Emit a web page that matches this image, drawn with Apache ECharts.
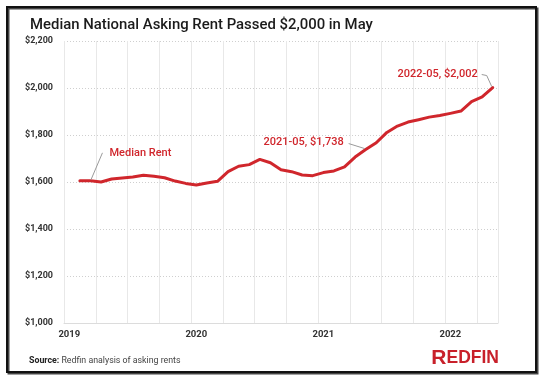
<!DOCTYPE html>
<html><head><meta charset="utf-8">
<script src="https://cdn.jsdelivr.net/npm/echarts@6/dist/echarts.min.js"></script>
<style>html,body{margin:0;padding:0;background:#fff}#c{width:546px;height:383px}</style>
</head><body><div id="c"></div>
<script>
const months = ["2019-01","2019-02","2019-03","2019-04","2019-05","2019-06","2019-07","2019-08","2019-09","2019-10","2019-11","2019-12",
"2020-01","2020-02","2020-03","2020-04","2020-05","2020-06","2020-07","2020-08","2020-09","2020-10","2020-11","2020-12",
"2021-01","2021-02","2021-03","2021-04","2021-05","2021-06","2021-07","2021-08","2021-09","2021-10","2021-11","2021-12",
"2022-01","2022-02","2022-03","2022-04","2022-05"];
const medianRent = [null,1605,1605,1600,1613,1617,1621,1629,1624,1618,1604,1594,
1587,1596,1603,1644,1667,1674,1696,1682,1652,1644,1630,1627,
1640,1647,1664,1706,1738,1767,1811,1838,1855,1865,1876,1883,
1892,1902,1942,1962,2002];
const yTicks = {min:1000, max:2200, interval:200};
const annotations = [
  {month:"2019-03", text:"Median Rent"},
  {month:"2021-05", text:"2021-05, $1,738"},
  {month:"2022-05", text:"2022-05, $2,002"}
];
const titleText = "Median National Asking Rent Passed $2,000 in May";
const sourceLabel = "Source:";
const sourceText = "Redfin analysis of asking rents";

const FONT = "Roboto, 'Noto Sans', sans-serif";
const RED = '#d0262c';
const chart = echarts.init(document.getElementById('c'), null, {renderer:'canvas'});
chart.setOption({
  animation:false,
  grid:{left:64, right:48, top:41, bottom:60, containLabel:false},
  title:{text:titleText, left:25, top:13, textStyle:{fontFamily:FONT, fontSize:14.9, fontWeight:500, color:'#1b1b1b'}},
  xAxis:{type:'category', data:months, boundaryGap:true,
    axisLine:{show:true, lineStyle:{color:'#dcdcdc'}},
    axisTick:{show:false},
    axisLabel:{interval:11, margin:7, fontFamily:FONT, fontSize:9.5, fontWeight:'bold', color:'#333',
      formatter:v=>v.slice(0,4)},
    splitLine:{show:true, interval:2, lineStyle:{color:'#e8e8e8', width:1}}
  },
  yAxis:{type:'value', min:yTicks.min, max:yTicks.max, interval:yTicks.interval,
    axisLine:{show:false}, axisTick:{show:false},
    axisLabel:{margin:11, fontFamily:FONT, fontSize:9, fontWeight:'bold', color:'#333',
      formatter:v=>'$'+v.toLocaleString('en-US')},
    splitLine:{show:true, lineStyle:{color:'#cfcfcf', type:[1,2], width:1}}
  },
  series:[{type:'line', data:medianRent, showSymbol:false, symbol:'none', connectNulls:false,
    lineStyle:{color:RED, width:3, join:'round', cap:'round'}}]
});

const px = m => chart.convertToPixel({seriesIndex:0}, [months.indexOf(m), medianRent[months.indexOf(m)]]);
const g = [];
g.push({type:'rect', shape:{x:8.5,y:8.5,width:529,height:365}, style:{fill:'none', stroke:'#444', lineWidth:2}, z:0});
g.push({type:'rect', shape:{x:7,y:7,width:529,height:365}, style:{fill:'none', stroke:'#111', lineWidth:2}, z:1});
const textStyle = {fill:RED, fontFamily:FONT, fontSize:11, fontWeight:500};
let p = px(annotations[0].month);
g.push({type:'polyline', shape:{points:[[p[0]+0.5,p[1]-1],[p[0]+12,p[1]-28]]}, style:{stroke:'#9a9a9a', lineWidth:1, fill:null}, z:5});
g.push({type:'text', x:p[0]+19, y:p[1]-28, style:Object.assign({text:annotations[0].text, align:'left', verticalAlign:'middle'}, textStyle), z:5});
p = px(annotations[1].month);
g.push({type:'polyline', shape:{points:[[p[0]-1,p[1]-1],[p[0]-17,p[1]-6]]}, style:{stroke:'#9a9a9a', lineWidth:1, fill:null}, z:5});
g.push({type:'text', x:p[0]-22, y:p[1]-7, style:Object.assign({text:annotations[1].text, align:'right', verticalAlign:'middle'}, textStyle), z:5});
p = px(annotations[2].month);
g.push({type:'polyline', shape:{points:[[p[0]-1,p[1]-1],[p[0]-6,p[1]-12],[p[0]-11,p[1]-13]]}, style:{stroke:'#9a9a9a', lineWidth:1, fill:null}, z:5});
g.push({type:'text', x:p[0]-15, y:p[1]-13.5, style:Object.assign({text:annotations[2].text, align:'right', verticalAlign:'middle'}, textStyle), z:5});
g.push({type:'text', left:29, top:356, style:{rich:{b:{fontFamily:FONT, fontSize:8.8, fontWeight:'bold', fill:'#222'}, n:{fontFamily:FONT, fontSize:8.8, fill:'#444'}}, text:'{b|'+sourceLabel+' }{n|'+sourceText+'}'}});
g.push({type:'text', x:499, y:358, style:{align:'right', verticalAlign:'middle',
  rich:{a:{fontFamily:"'Liberation Sans', Arial, sans-serif", fontSize:21, fontWeight:'bold', fill:'#c8202a'},
        b:{fontFamily:"'Liberation Sans', Arial, sans-serif", fontSize:17.5, fontWeight:'bold', fill:'#c8202a'}},
  text:'{a|R}{b|EDFIN}'}});
chart.setOption({graphic:g});
</script></body></html>
